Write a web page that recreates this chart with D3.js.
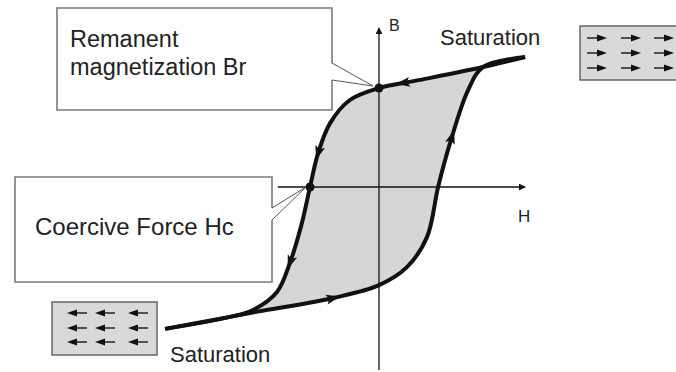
<!DOCTYPE html>
<html>
<head>
<meta charset="utf-8">
<script src="https://cdn.jsdelivr.net/npm/d3@7"></script>
<style>
  body { margin: 0; background: #fff; }
  svg text { font-family: "Liberation Sans", Arial, sans-serif; fill: #222; }
</style>
</head>
<body>
<div id="graph"></div>
<script>
// Hysteresis loop, values in (H, B) units; origin at the axis crossing
const upperBranch = [  // H decreasing, from positive saturation
  [4.87, 4.33], [3.47, 4.0], [1.37, 3.57], [0, 3.3], [-0.97, 2.9], [-1.63, 2.13],
  [-2.03, 1.13], [-2.3, 0], [-2.57, -1.2], [-2.97, -2.53], [-3.4, -3.5],
  [-4.2, -4.1], [-4.97, -4.33], [-7.13, -4.73]
];
const lowerBranch = [  // H increasing, from negative saturation
  [-7.13, -4.73], [-4.97, -4.33], [-4.3, -4.2], [-1.53, -3.7], [0, -3.27],
  [0.93, -2.67], [1.6, -1.67], [1.97, 0], [2.37, 1.47], [2.97, 3.23],
  [3.47, 4.0], [4.87, 4.33]
];
const upperArrows = [[0.8, 3.47], [-2.03, 1.13], [-2.97, -2.53]];
const lowerArrows = [[-1.53, -3.7], [2.47, 1.67]];
const markedPoints = [[0, 3.3], [-2.3, 0]];  // Br, Hc
const hAxisRange = [-3.37, 4.87];
const bAxisRange = [5.3, -6.1];
const callouts = ["Remanent|magnetization Br", "Coercive Force Hc"];
const axisLabels = ["H", "B"];
const saturationLabel = "Saturation";

const width = 676, height = 372;

let svg = d3.select("#graph").append("svg")
            .attr("width", width)
            .attr("height", height);

let x = d3.scaleLinear().domain([-5, 5]).range([229, 529]);
let y = d3.scaleLinear().domain([-5, 5]).range([337, 37]);

let line = d3.line()
             .x(d => x(d[0]))
             .y(d => y(d[1]))
             .curve(d3.curveCatmullRom.alpha(0.5));

// Shaded loop area (between the branches, tails excluded)
let loop = upperBranch.slice(1, 13).concat(lowerBranch.slice(2, 11));
svg.append("path")
   .attr("d", line(loop) + "Z")
   .attr("fill", "#d6d6d6")
   .attr("stroke", "none");

// Axes
svg.append("defs").append("marker")
   .attr("id", "axhead")
   .attr("viewBox", "0 0 10 10")
   .attr("refX", 9).attr("refY", 5)
   .attr("markerWidth", 7).attr("markerHeight", 7)
   .attr("markerUnits", "userSpaceOnUse")
   .attr("orient", "auto")
   .append("path")
   .attr("d", "M0,0 L10,5 L0,10 Z")
   .attr("fill", "#111");

svg.append("line")
   .attr("x1", x(hAxisRange[0])).attr("x2", x(hAxisRange[1]))
   .attr("y1", y(0)).attr("y2", y(0))
   .attr("stroke", "#111").attr("stroke-width", 1.3)
   .attr("marker-end", "url(#axhead)");
svg.append("line")
   .attr("x1", x(0)).attr("x2", x(0))
   .attr("y1", y(bAxisRange[1])).attr("y2", y(bAxisRange[0]))
   .attr("stroke", "#111").attr("stroke-width", 1.3)
   .attr("marker-end", "url(#axhead)");

svg.append("text").attr("x", 518).attr("y", 222)
   .attr("font-size", 17).text(axisLabels[0]);
svg.append("text").attr("x", 389).attr("y", 31)
   .attr("font-size", 16).text(axisLabels[1]);

// Branches
let upperPath = svg.append("path")
   .attr("d", line(upperBranch))
   .attr("fill", "none").attr("stroke", "#111")
   .attr("stroke-width", 4).attr("stroke-linejoin", "round");
let lowerPath = svg.append("path")
   .attr("d", line(lowerBranch))
   .attr("fill", "none").attr("stroke", "#111")
   .attr("stroke-width", 4).attr("stroke-linejoin", "round");

// Direction arrows along the curve
function place_arrows(pathSel, targets) {
  let node = pathSel.node();
  let total = node.getTotalLength();
  targets.forEach(function(t) {
    let tx = x(t[0]), ty = y(t[1]);
    let best = 0, bestD = Infinity;
    for (let l = 0; l <= total; l += 1) {
      let p = node.getPointAtLength(l);
      let d = (p.x - tx) * (p.x - tx) + (p.y - ty) * (p.y - ty);
      if (d < bestD) { bestD = d; best = l; }
    }
    let p0 = node.getPointAtLength(Math.max(0, best - 2));
    let p1 = node.getPointAtLength(Math.min(total, best + 2));
    let ang = Math.atan2(p1.y - p0.y, p1.x - p0.x) * 180 / Math.PI;
    let p = node.getPointAtLength(best);
    svg.append("path")
       .attr("d", "M7,0 L-7,-5 L-4,0 L-7,5 Z")
       .attr("fill", "#111")
       .attr("transform", "translate(" + p.x + "," + p.y + ") rotate(" + ang + ")");
  });
}
place_arrows(upperPath, upperArrows);
place_arrows(lowerPath, lowerArrows);

svg.selectAll("circle.mark")
   .data(markedPoints)
   .enter().append("circle")
   .attr("class", "mark")
   .attr("cx", d => x(d[0])).attr("cy", d => y(d[1]))
   .attr("r", 4.5).attr("fill", "#111");

// Callout boxes with pointer
function callout(left, top, right, bottom, gapTop, gapBottom, tip) {
  svg.append("path")
     .attr("d", "M" + right + "," + gapTop +
                " L" + right + "," + top +
                " L" + left + "," + top +
                " L" + left + "," + bottom +
                " L" + right + "," + bottom +
                " L" + right + "," + gapBottom)
     .attr("fill", "#fff").attr("stroke", "#7a7a7a").attr("stroke-width", 1.6);
  svg.append("path")
     .attr("d", "M" + right + "," + gapTop + " L" + tip[0] + "," + tip[1] +
                " L" + right + "," + gapBottom)
     .attr("fill", "none").attr("stroke", "#555").attr("stroke-width", 1);
}
callout(57, 8, 332, 110, 63, 80, [x(0) - 6, y(3.3) - 2]);
callout(15, 177, 272, 282, 208, 220, [x(-2.3) - 4, y(0)]);

let lines1 = callouts[0].split("|");
svg.append("text").attr("x", 70).attr("y", 47).attr("font-size", 23.5).text(lines1[0]);
svg.append("text").attr("x", 70).attr("y", 75).attr("font-size", 23.5).text(lines1[1]);
svg.append("text").attr("x", 35).attr("y", 235).attr("font-size", 24).text(callouts[1]);

// Saturation labels and domain boxes
svg.append("text").attr("x", 440).attr("y", 45).attr("font-size", 22).text(saturationLabel);
svg.append("text").attr("x", 170).attr("y", 362).attr("font-size", 22).text(saturationLabel);

function domain_box(left, top, w, h, rows, cols, dir) {
  svg.append("rect")
     .attr("x", left).attr("y", top).attr("width", w).attr("height", h)
     .attr("fill", "#d9d9d9").attr("stroke", "#666").attr("stroke-width", 1.5);
  rows.forEach(function(ry) {
    cols.forEach(function(cx) {
      let g = svg.append("g")
                 .attr("transform", "translate(" + cx + "," + ry + ") scale(" + dir + ",1)");
      g.append("line").attr("x1", -10).attr("x2", 2).attr("y1", 0).attr("y2", 0)
       .attr("stroke", "#222").attr("stroke-width", 1.5);
      g.append("path").attr("d", "M10,0 L0,-3.5 L0,3.5 Z").attr("fill", "#111");
    });
  });
}
domain_box(580, 26, 110, 54, [38, 53, 68], [597, 631, 664], 1);
domain_box(52, 302, 105, 53, [313, 328, 342], [77, 105, 138], -1);
</script>
</body>
</html>
